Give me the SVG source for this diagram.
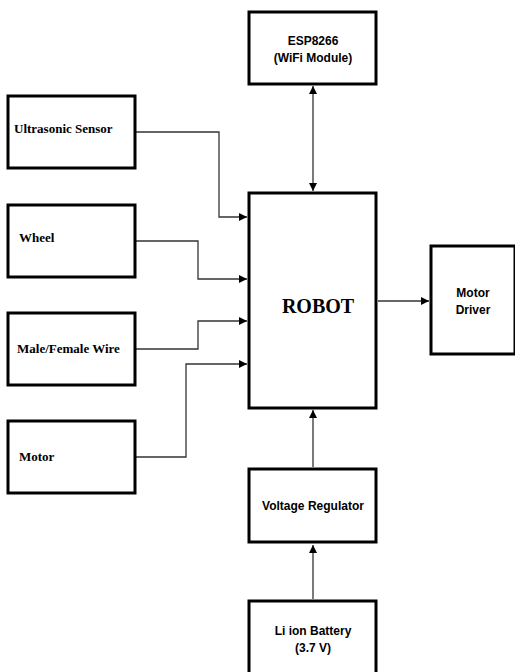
<svg xmlns="http://www.w3.org/2000/svg" width="515" height="672" viewBox="0 0 515 672">
<style>
.box{fill:#fff;stroke:#000;stroke-width:3}
.ser{font-family:"Liberation Serif",serif;font-weight:bold;font-size:13px;fill:#000}
.san{font-family:"Liberation Sans",Arial,sans-serif;font-weight:bold;font-size:12px;fill:#000;text-anchor:middle}
.con{fill:none;stroke:#333;stroke-width:1.3}
</style>
<defs>
<marker id="ah" markerWidth="8" markerHeight="8" refX="8" refY="4" orient="auto-start-reverse" markerUnits="userSpaceOnUse">
<path d="M0,0 L8,4 L0,8 Z" fill="#000"/>
</marker>
</defs>
<rect width="515" height="672" fill="#fff"/>
<g id="connectors">
<path class="con" d="M136,132 H219 V217 H247" marker-end="url(#ah)"/>
<path class="con" d="M136,241 H198 V279 H247" marker-end="url(#ah)"/>
<path class="con" d="M136,349 H198 V321 H247" marker-end="url(#ah)"/>
<path class="con" d="M136,457 H186 V364 H247" marker-end="url(#ah)"/>
<path class="con" d="M313,86 V191" marker-start="url(#ah)" marker-end="url(#ah)"/>
<path class="con" d="M378,301 H429" marker-end="url(#ah)"/>
<path class="con" d="M313,467 V410" marker-end="url(#ah)"/>
<path class="con" d="M313,599 V545" marker-end="url(#ah)"/>
</g>
<g id="ultrasonic"><rect class="box" x="8" y="96" width="127" height="72"/><text class="ser" x="14" y="133">Ultrasonic Sensor</text></g>
<g id="wheel"><rect class="box" x="8" y="205" width="127" height="72"/><text class="ser" x="19" y="242">Wheel</text></g>
<g id="wire"><rect class="box" x="8" y="313" width="127" height="72"/><text class="ser" x="17" y="353">Male/Female Wire</text></g>
<g id="motor"><rect class="box" x="8" y="421" width="127" height="72"/><text class="ser" x="19" y="461">Motor</text></g>
<g id="esp"><rect class="box" x="249" y="12" width="127" height="72"/><text class="san" x="313" y="45">ESP8266</text><text class="san" x="313" y="62">(WiFi Module)</text></g>
<g id="robot"><rect class="box" x="249" y="193" width="127" height="215"/><text x="318" y="313" style="font-family:'Liberation Serif',serif;font-weight:bold;font-size:20px;text-anchor:middle">ROBOT</text></g>
<g id="driver"><rect class="box" x="431" y="246" width="84" height="108"/><text class="san" x="473" y="297">Motor</text><text class="san" x="473" y="314">Driver</text></g>
<g id="regulator"><rect class="box" x="249" y="469" width="127" height="73"/><text class="san" x="313" y="510">Voltage Regulator</text></g>
<g id="battery"><rect class="box" x="249" y="601" width="127" height="75"/><text class="san" x="313" y="635">Li ion Battery</text><text class="san" x="313" y="652">(3.7 V)</text></g>
</svg>
